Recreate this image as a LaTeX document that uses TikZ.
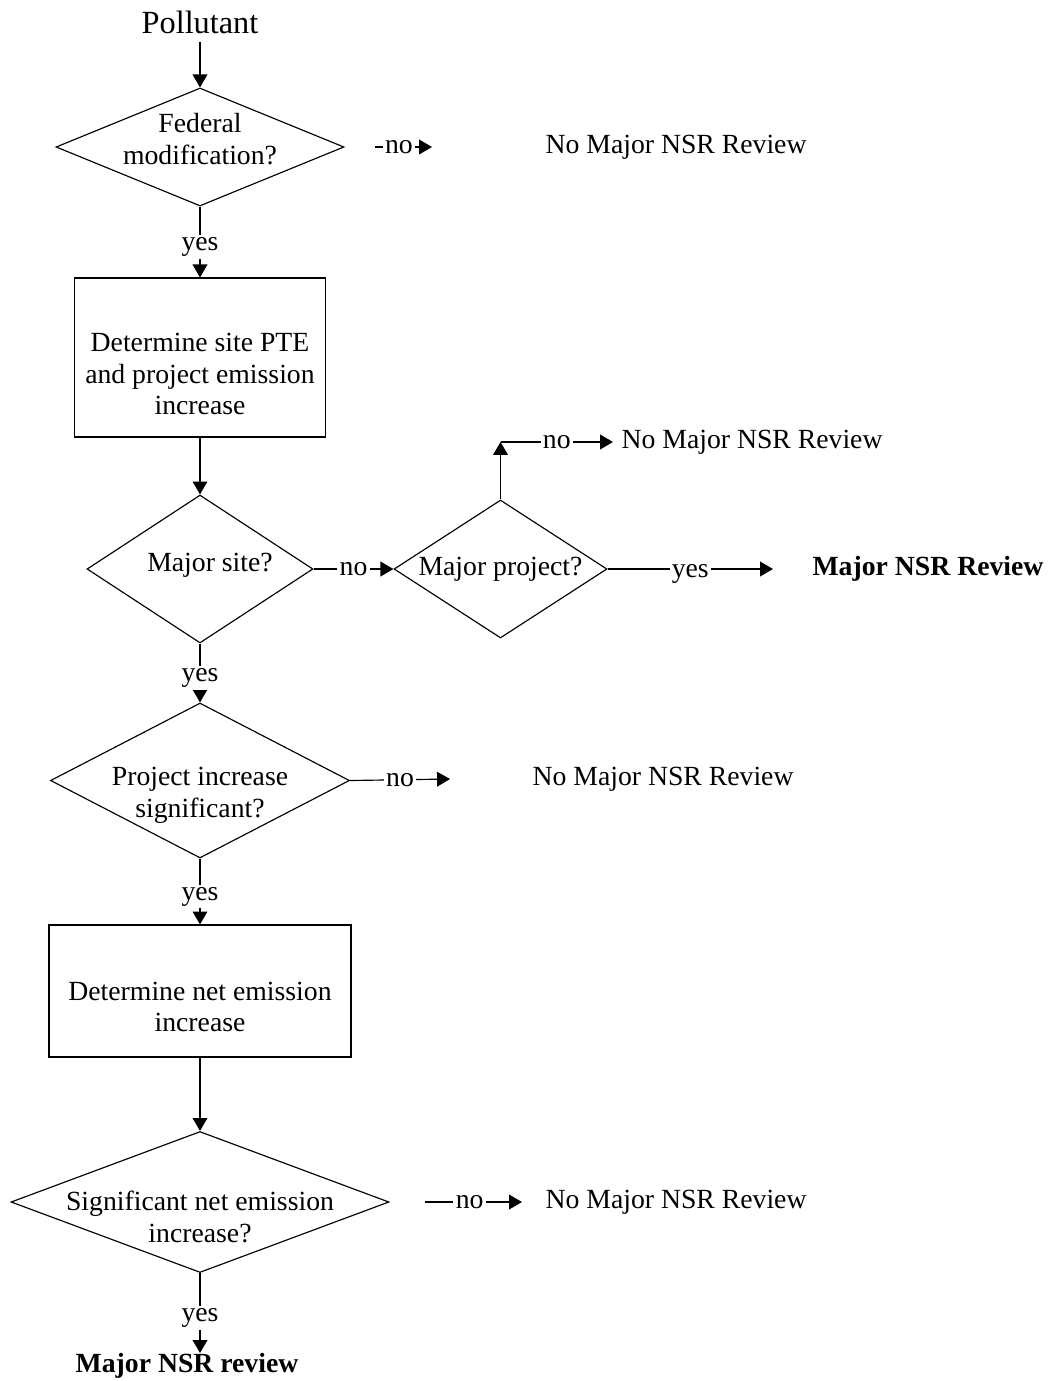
\documentclass[tikz,border=0pt]{standalone}
\usepackage{fontspec}
\setmainfont{Liberation Serif}
\usetikzlibrary{positioning,shapes.geometric,arrows.meta}
\newcommand{\pu}{0.433pt}

\begin{document}
\begin{tikzpicture}[x=\pu,y=-\pu,
    line width=0.5pt,
    every node/.style={font=\fontsize{12}{13.8}\selectfont},
    txt/.style={align=center,inner sep=0pt},
    dia/.style={diamond,draw,inner sep=0pt},
    box/.style={rectangle,draw,inner sep=0pt},
    lbl/.style={fill=white,inner sep=1pt},
    ylbl/.style={lbl,yshift=-5*\pu},
    res/.style={anchor=west,inner xsep=8*\pu,inner ysep=0pt},
    bold/.style={font=\fontsize{12}{13.8}\selectfont\bfseries},
    arr/.style={-{Triangle[length=5.6pt,width=6.4pt]}},
  ]
  \useasboundingbox (0,0) rectangle (1049,1381);

  % main column
  \node[font=\fontsize{14}{16}\selectfont] (poll) at (200,22) {Pollutant};
  \node[dia,minimum width=288*\pu,minimum height=118*\pu,
    label={[txt,yshift=7.5*\pu]center:Federal\\modification?}] (fed) at (200,147) {};
  \node[box,minimum width=251*\pu,minimum height=159*\pu,
    label={[txt,yshift=-16.5*\pu]center:Determine site PTE\\and project emission\\increase}] (pte) at (200,357.5) {};
  \node[dia,minimum width=226*\pu,minimum height=148*\pu,
    label={[txt,xshift=10*\pu,yshift=4*\pu]center:Major site?}] (site) at (200,569) {};
  \node[dia,minimum width=213*\pu,minimum height=138*\pu,
    label={[txt]center:Major project?}] (proj) at (500.5,569) {};
  \node[dia,minimum width=299*\pu,minimum height=155*\pu,
    label={[txt,yshift=-15*\pu]center:Project increase\\significant?}] (sig) at (200,780.5) {};
  \node[box,minimum width=302*\pu,minimum height=132*\pu,
    label={[txt,yshift=-16*\pu]center:Determine net emission\\increase}] (net) at (200,991) {};
  \node[dia,minimum width=378*\pu,minimum height=141*\pu,
    label={[txt,yshift=-14.5*\pu]center:Significant net emission\\increase?}] (netsig) at (200,1202) {};
  \node[bold,inner sep=0pt,anchor=north] (fin) at (187,1353) {Major NSR review};

  % outcomes
  \node[res] (fedres) at (537,147) {No Major NSR Review};
  \node[res] (projres) at (613,442) {No Major NSR Review};
  \node[res,bold] (yesres) at (804,569) {Major NSR Review};
  \node[res] (sigres) at (524,779) {No Major NSR Review};
  \node[res] (netres) at (537,1202) {No Major NSR Review};

  \coordinate (fedno) at (375,147);
  \coordinate (fedend) at (432,147);
  \coordinate (bend) at (500.5,442);
  \coordinate (projend) at (773,569);
  \coordinate (sigend) at (450,779);
  \coordinate (netno) at (425,1202);
  \coordinate (netend) at (522,1202);

  % connectors
  \draw[arr] (poll) -- (fed.north);
  \draw[arr] (fed.south) -- node[ylbl]{yes} (pte.north);
  \draw[arr] (fedno) -- node[lbl,pos=0.42]{no} (fedend);
  \draw[arr] (pte.south) -- (site.north);
  \draw[arr] (site.east) -- node[lbl]{no} (proj.west);
  \draw[arr] (proj.north) -- (bend);
  \draw[arr] (bend) -- node[lbl]{no} (projres.west);
  \draw[arr] (proj.east) -- node[ylbl]{yes} (projend);
  \draw[arr] (site.south) -- node[ylbl]{yes} (sig.north);
  \draw[arr] (sig.east) -- node[lbl]{no} (sigend);
  \draw[arr] (sig.south) -- node[ylbl]{yes} (net.north);
  \draw[arr] (net.south) -- (netsig.north);
  \draw[arr] (netno) -- node[lbl,pos=0.46]{no} (netend);
  \draw[arr] (netsig.south) -- node[ylbl]{yes} (netsig.south |- fin.north);
\end{tikzpicture}
\end{document}
